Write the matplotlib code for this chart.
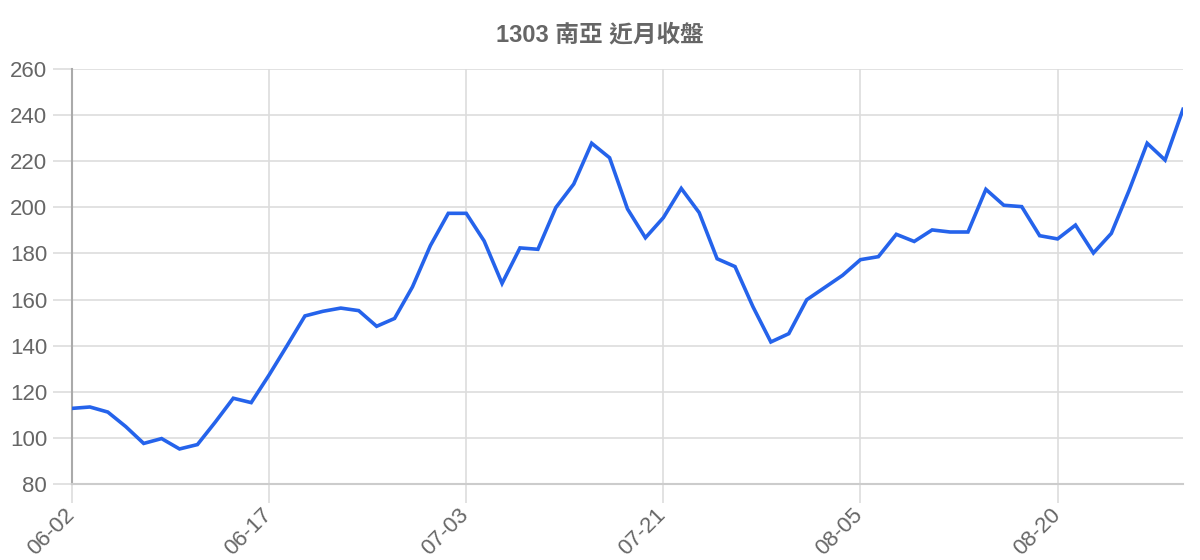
import matplotlib
matplotlib.use("Agg")
import matplotlib.pyplot as plt
import matplotlib.transforms as mtransforms

title = "1303 南亞 近月收盤"

# closing prices, one per trading day starting 06-02
close = [
    112.8, 113.4, 111.2, 104.9, 97.6, 99.7, 95.2, 97.1, 106.9, 117.2,
    115.3, 127.3, 140.0, 152.9, 154.9, 156.3, 155.2, 148.4, 151.8, 165.5,
    183.4, 197.4, 197.4, 185.4, 167.0, 182.4, 181.8, 199.9, 210.1, 227.8,
    221.5, 199.3, 186.8, 195.5, 208.2, 197.7, 177.7, 174.3, 156.9, 141.6,
    145.2, 159.9, 165.2, 170.5, 177.3, 178.6, 188.3, 185.2, 190.2, 189.3,
    189.3, 207.8, 200.9, 200.3, 187.7, 186.3, 192.3, 180.2, 188.7, 207.5,
    227.8, 220.5, 242.5,
]

tick_idx = [0, 11, 22, 33, 44, 55]
tick_labels = ["06-02", "06-17", "07-03", "07-21", "08-05", "08-20"]
y_ticks = [80, 100, 120, 140, 160, 180, 200, 220, 240, 260]

text_col = "#666666"
grid_col = "#dddddd"

fig = plt.figure(figsize=(12, 5.6), dpi=100)
ax = fig.add_axes([72 / 1200, 76 / 560, 1111 / 1200, 415 / 560])

x = list(range(len(close)))
ax.plot(x, close, color="#2563eb", linewidth=2.6, solid_joinstyle="miter", zorder=3)

ax.set_xlim(0, len(close) - 1)
ax.set_ylim(80, 260)
ax.set_yticks(y_ticks)
ax.set_xticks(tick_idx)
ax.set_xticklabels(tick_labels, rotation=45, ha="right", va="top",
                   rotation_mode="anchor")

ax.grid(True, color=grid_col, linewidth=1.2)
ax.set_axisbelow(True)
ax.tick_params(axis="both", length=14, width=1.2, color=grid_col,
               labelcolor=text_col, labelsize=16)
ax.tick_params(axis="y", pad=4)
ax.tick_params(axis="x", pad=1)

for s in ["top", "right"]:
    ax.spines[s].set_visible(False)
ax.spines["bottom"].set_color("#cccccc")
ax.spines["bottom"].set_linewidth(1.5)
ax.spines["left"].set_color("#aaaaaa")
ax.spines["left"].set_linewidth(1.5)

shift = mtransforms.ScaledTranslation(-8 / 100, 0, fig.dpi_scale_trans)
for lab in ax.get_xticklabels():
    lab.set_transform(lab.get_transform() + shift)
for lab in ax.get_yticklabels() + ax.get_xticklabels():
    lab.set_fontfamily(["Liberation Sans", "DejaVu Sans"])

fig.text(0.5, 1 - 35 / 560, title, ha="center", va="center",
         fontsize=17, fontweight="bold", color=text_col,
         family=["Liberation Sans", "Noto Sans CJK TC", "DejaVu Sans"])

fig.savefig("out.png", dpi=100)
